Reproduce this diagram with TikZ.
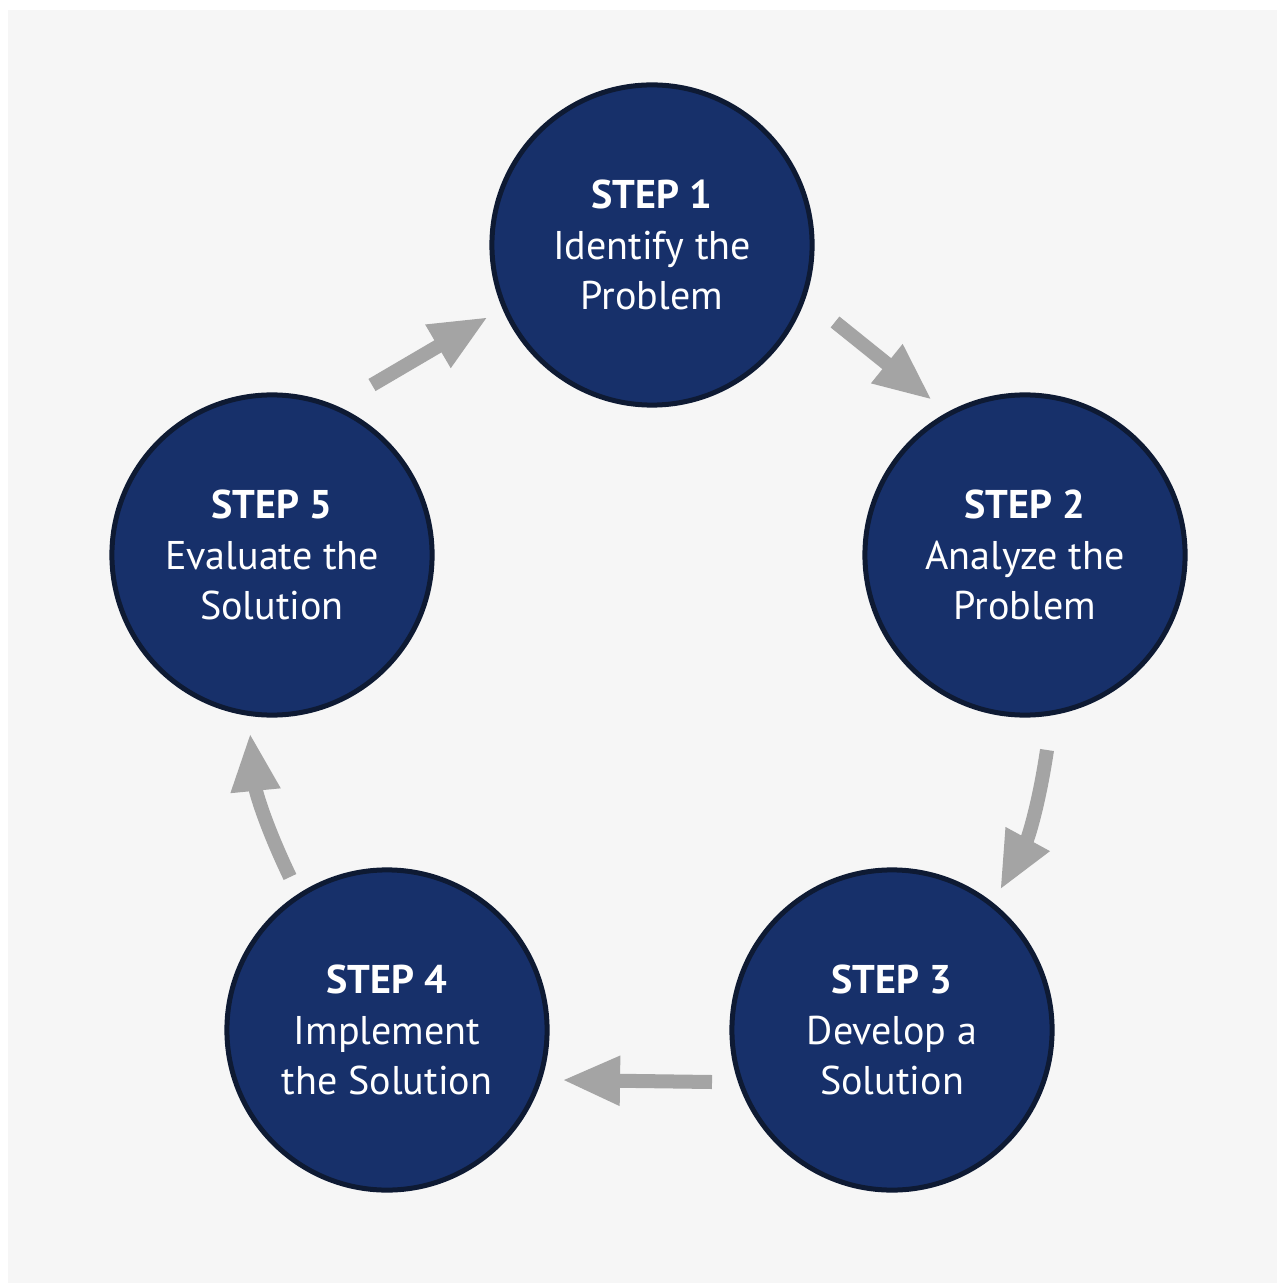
\documentclass[tikz,border=0pt]{standalone}
\usepackage{fontspec}
\setmainfont{PT Sans}
\usetikzlibrary{arrows.meta}
\definecolor{stepblue}{HTML}{17306A}
\definecolor{stepline}{HTML}{0E1A33}
\definecolor{arrowgray}{HTML}{A4A4A4}
\definecolor{panelgray}{HTML}{F6F6F6}
\tikzset{
	stepnode/.style={circle, fill=stepblue, draw=stepline, line width=0.5mm, minimum size=3.2cm, inner sep=0pt,
		text=white, align=center, font=\fontsize{11.4}{14.3}\selectfont},
	cyclearrow/.style={line width=0.14cm, color=arrowgray, -{Triangle[length=0.58cm, width=0.46cm]}},
}

\begin{document}
\begin{tikzpicture}[x=0.01cm, y=-0.01cm]
			%%%%% START %%%%%
			
			\useasboundingbox (0, 0) rectangle (1277, 1283);
			\fill[white] (0, 0) rectangle (1277, 1283);
			\fill[panelgray] (8, 10) rectangle (1277, 1283);
			
			\node[stepnode] (s1) at (652, 245) {\textbf{STEP 1}\\Identify the\\Problem};
			\node[stepnode] (s2) at (1025, 555) {\textbf{STEP 2}\\Analyze the\\Problem};
			\node[stepnode] (s3) at (892, 1030) {\textbf{STEP 3}\\Develop a\\Solution};
			\node[stepnode] (s4) at (387, 1030) {\textbf{STEP 4}\\Implement\\the Solution};
			\node[stepnode] (s5) at (272, 555) {\textbf{STEP 5}\\Evaluate the\\Solution};
			
			\coordinate (a12s) at (835, 322);
			\coordinate (a12e) at (932, 400);
			\coordinate (a23s) at (1047, 750);
			\coordinate (a23e) at (1000, 890);
			\coordinate (a34s) at (712, 1082);
			\coordinate (a34e) at (562, 1080);
			\coordinate (a45s) at (290, 877);
			\coordinate (a45e) at (250, 733);
			\coordinate (a51s) at (372, 385);
			\coordinate (a51e) at (488, 317);
			
			\draw[cyclearrow] (a12s) -- (a12e);
			\draw[cyclearrow] (a23s) to[bend left=10] (a23e);
			\draw[cyclearrow] (a34s) -- (a34e);
			\draw[cyclearrow] (a45s) to[bend left=10] (a45e);
			\draw[cyclearrow] (a51s) -- (a51e);
			
			%%%%% END %%%%%
		\end{tikzpicture}
\end{document}
